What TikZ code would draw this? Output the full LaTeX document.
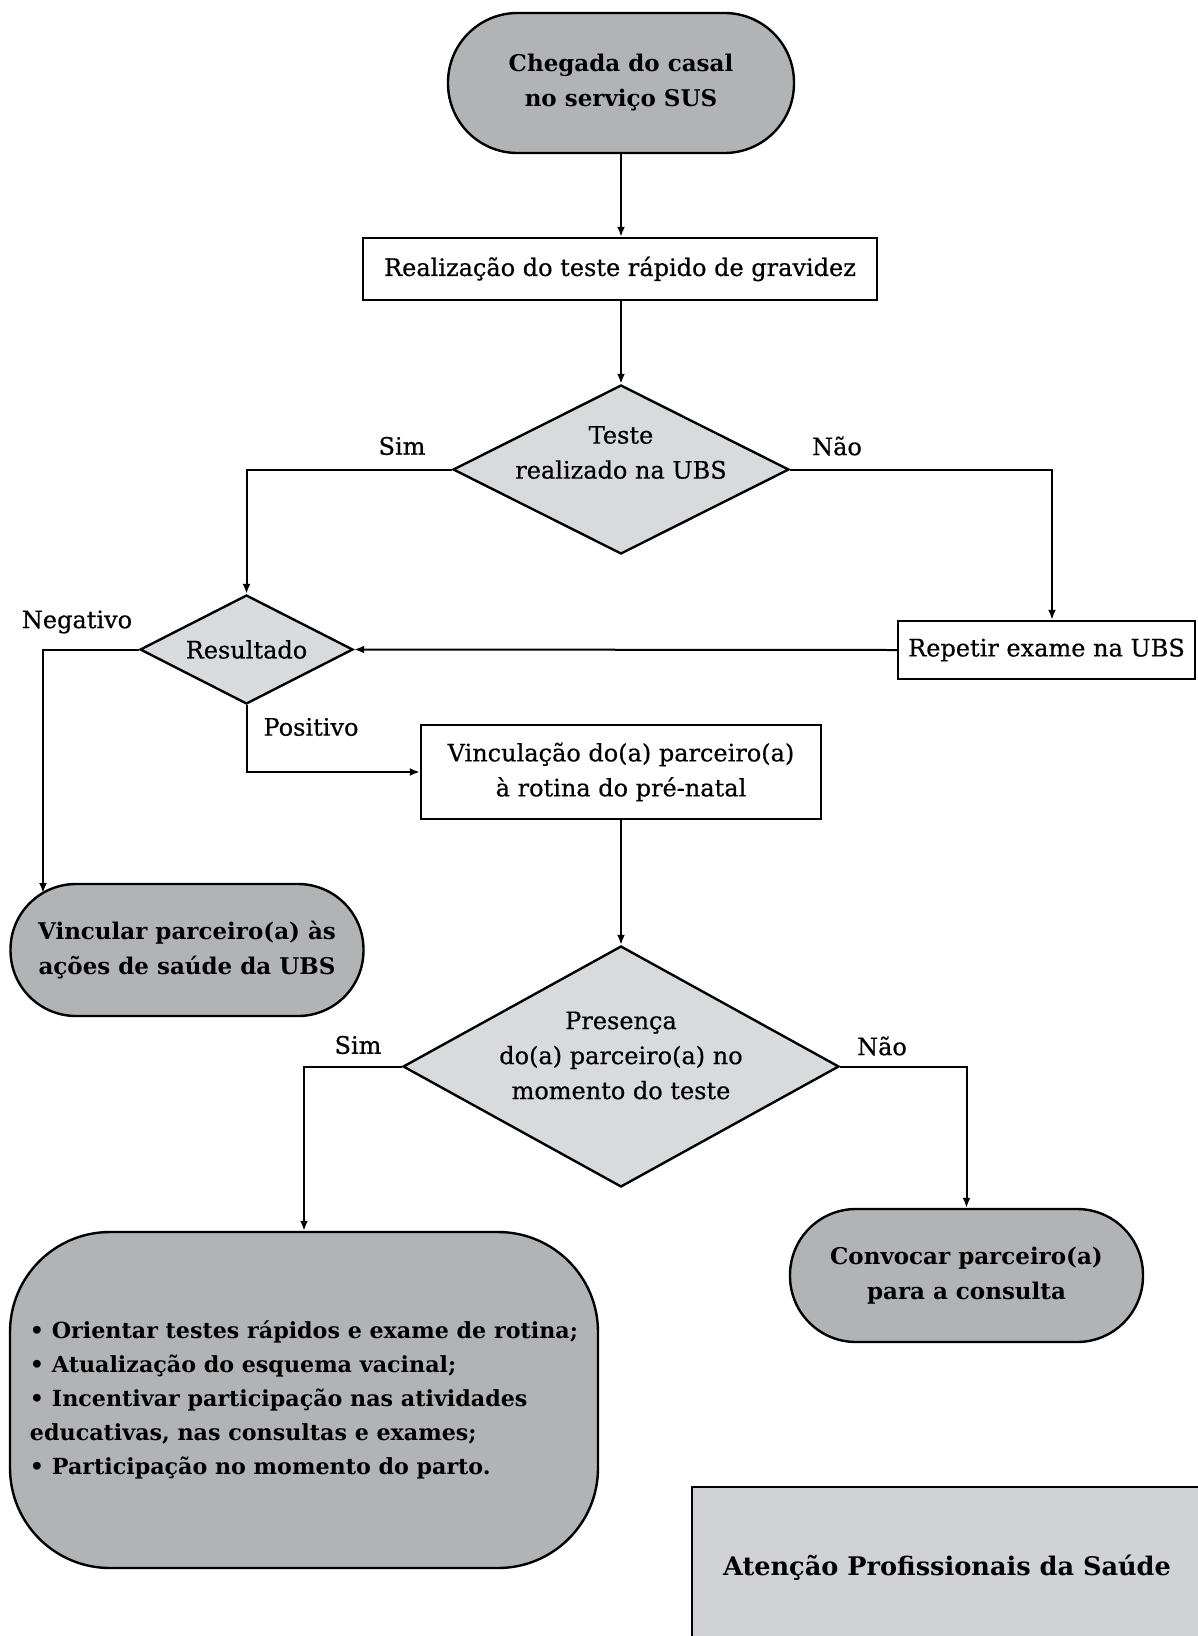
\documentclass[tikz,border=0pt]{standalone}
\usepackage{fontspec}
\setmainfont{DejaVu Serif}
\newfontfamily\medserif[FakeBold=0.6]{DejaVu Serif}
\usetikzlibrary{shapes.geometric,arrows.meta,calc}
\definecolor{termfill}{RGB}{178,179,181}
\definecolor{decfill}{RGB}{217,218,220}
\definecolor{notefill}{RGB}{209,210,212}
\begin{document}
\begin{tikzpicture}[x=1pt,y=-1pt,
  base/.style={draw=black, line width=2.4pt, align=center, inner sep=0pt, font=\medserif\fontsize{24}{35}\selectfont},
  term/.style={base, fill=termfill, font=\bfseries\fontsize{23}{35}\selectfont},
  procbox/.style={base, fill=white},
  dec/.style={base, diamond, fill=decfill},
  lbl/.style={font=\medserif\fontsize{24}{35}\selectfont, inner sep=0pt, align=center},
  conn/.style={line width=2pt, -{Latex[length=10pt,width=8pt]}}
]
\useasboundingbox (0,0) rectangle (1197,1636);
\fill[white] (0,0) rectangle (1197,1636);

\node[term, minimum width=346pt, minimum height=140pt, rounded corners=69.5pt] (start) at (621,83) {Chegada do casal\\no serviço SUS};
\node[procbox, minimum width=514pt, minimum height=62pt] (test) at (620,269) {Realização do teste rápido de gravidez};
\node[dec, minimum width=336pt, minimum height=169pt, aspect=2] (ubs) at (621,469.5) {};
\node[lbl] (ubstext) at ($(ubs.center)+(0,-17)$) {Teste\\realizado na UBS};
\node[dec, minimum width=213pt, minimum height=109pt, aspect=2] (res) at (246.5,649.5) {Resultado};
\node[procbox, minimum width=297pt, minimum height=58pt] (rep) at (1046.5,650) {Repetir exame na UBS};
\node[procbox, minimum width=400pt, minimum height=94pt] (vinc) at (621,772) {Vinculação do(a) parceiro(a)\\à rotina do pré-natal};
\node[term, minimum width=353pt, minimum height=132pt, rounded corners=65.5pt] (vincular) at (187,950) {Vincular parceiro(a) às\\ações de saúde da UBS};
\node[dec, minimum width=436pt, minimum height=241pt, aspect=1.8] (pres) at (621,1066.5) {};
\node[lbl] (prestext) at ($(pres.center)+(0,-11)$) {Presença\\do(a) parceiro(a) no\\momento do teste};
\node[term, minimum width=588pt, minimum height=336pt, rounded corners=100pt, align=left, font=\bfseries\fontsize{22.2}{34}\selectfont] (acoes) at (304,1400) {• Orientar testes rápidos e exame de rotina;\\• Atualização do esquema vacinal;\\• Incentivar participação nas atividades\\educativas, nas consultas e exames;\\• Participação no momento do parto.};
\node[term, minimum width=353pt, minimum height=133pt, rounded corners=66pt] (conv) at (966.5,1275.5) {Convocar parceiro(a)\\para a consulta};
\node[base, fill=notefill, minimum width=510pt, minimum height=162pt, font=\bfseries\fontsize{25.6}{35}\selectfont] (aten) at (947,1568) {Atenção Profissionais da Saúde};

\node[lbl] (sim1) at (402,446) {Sim};
\node[lbl] (nao1) at (837,446) {Não};
\node[lbl] (neg) at (77,622) {Negativo};
\node[lbl] (pos) at (311,727) {Positivo};
\node[lbl] (sim2) at (358,1045) {Sim};
\node[lbl] (nao2) at (882,1046) {Não};

\coordinate (negend) at (43,893);
\draw[conn] (start.south) -- (start.south |- test.north);
\draw[conn] (ubs.north |- test.south) -- (ubs.north);
\draw[conn] (ubs.west) -| (res.north);
\draw[conn] (ubs.east) -| ([xshift=5.5pt]rep.north);
\draw[conn] (rep.west) -- (res.east);
\draw[conn] (res.west) -| (negend);
\draw[conn] (res.south) |- (vinc.west);
\draw[conn] (vinc.south) -- (pres.north);
\draw[conn] (pres.west) -| (acoes.north);
\draw[conn] (pres.east) -| (conv.north);
\end{tikzpicture}
\end{document}
